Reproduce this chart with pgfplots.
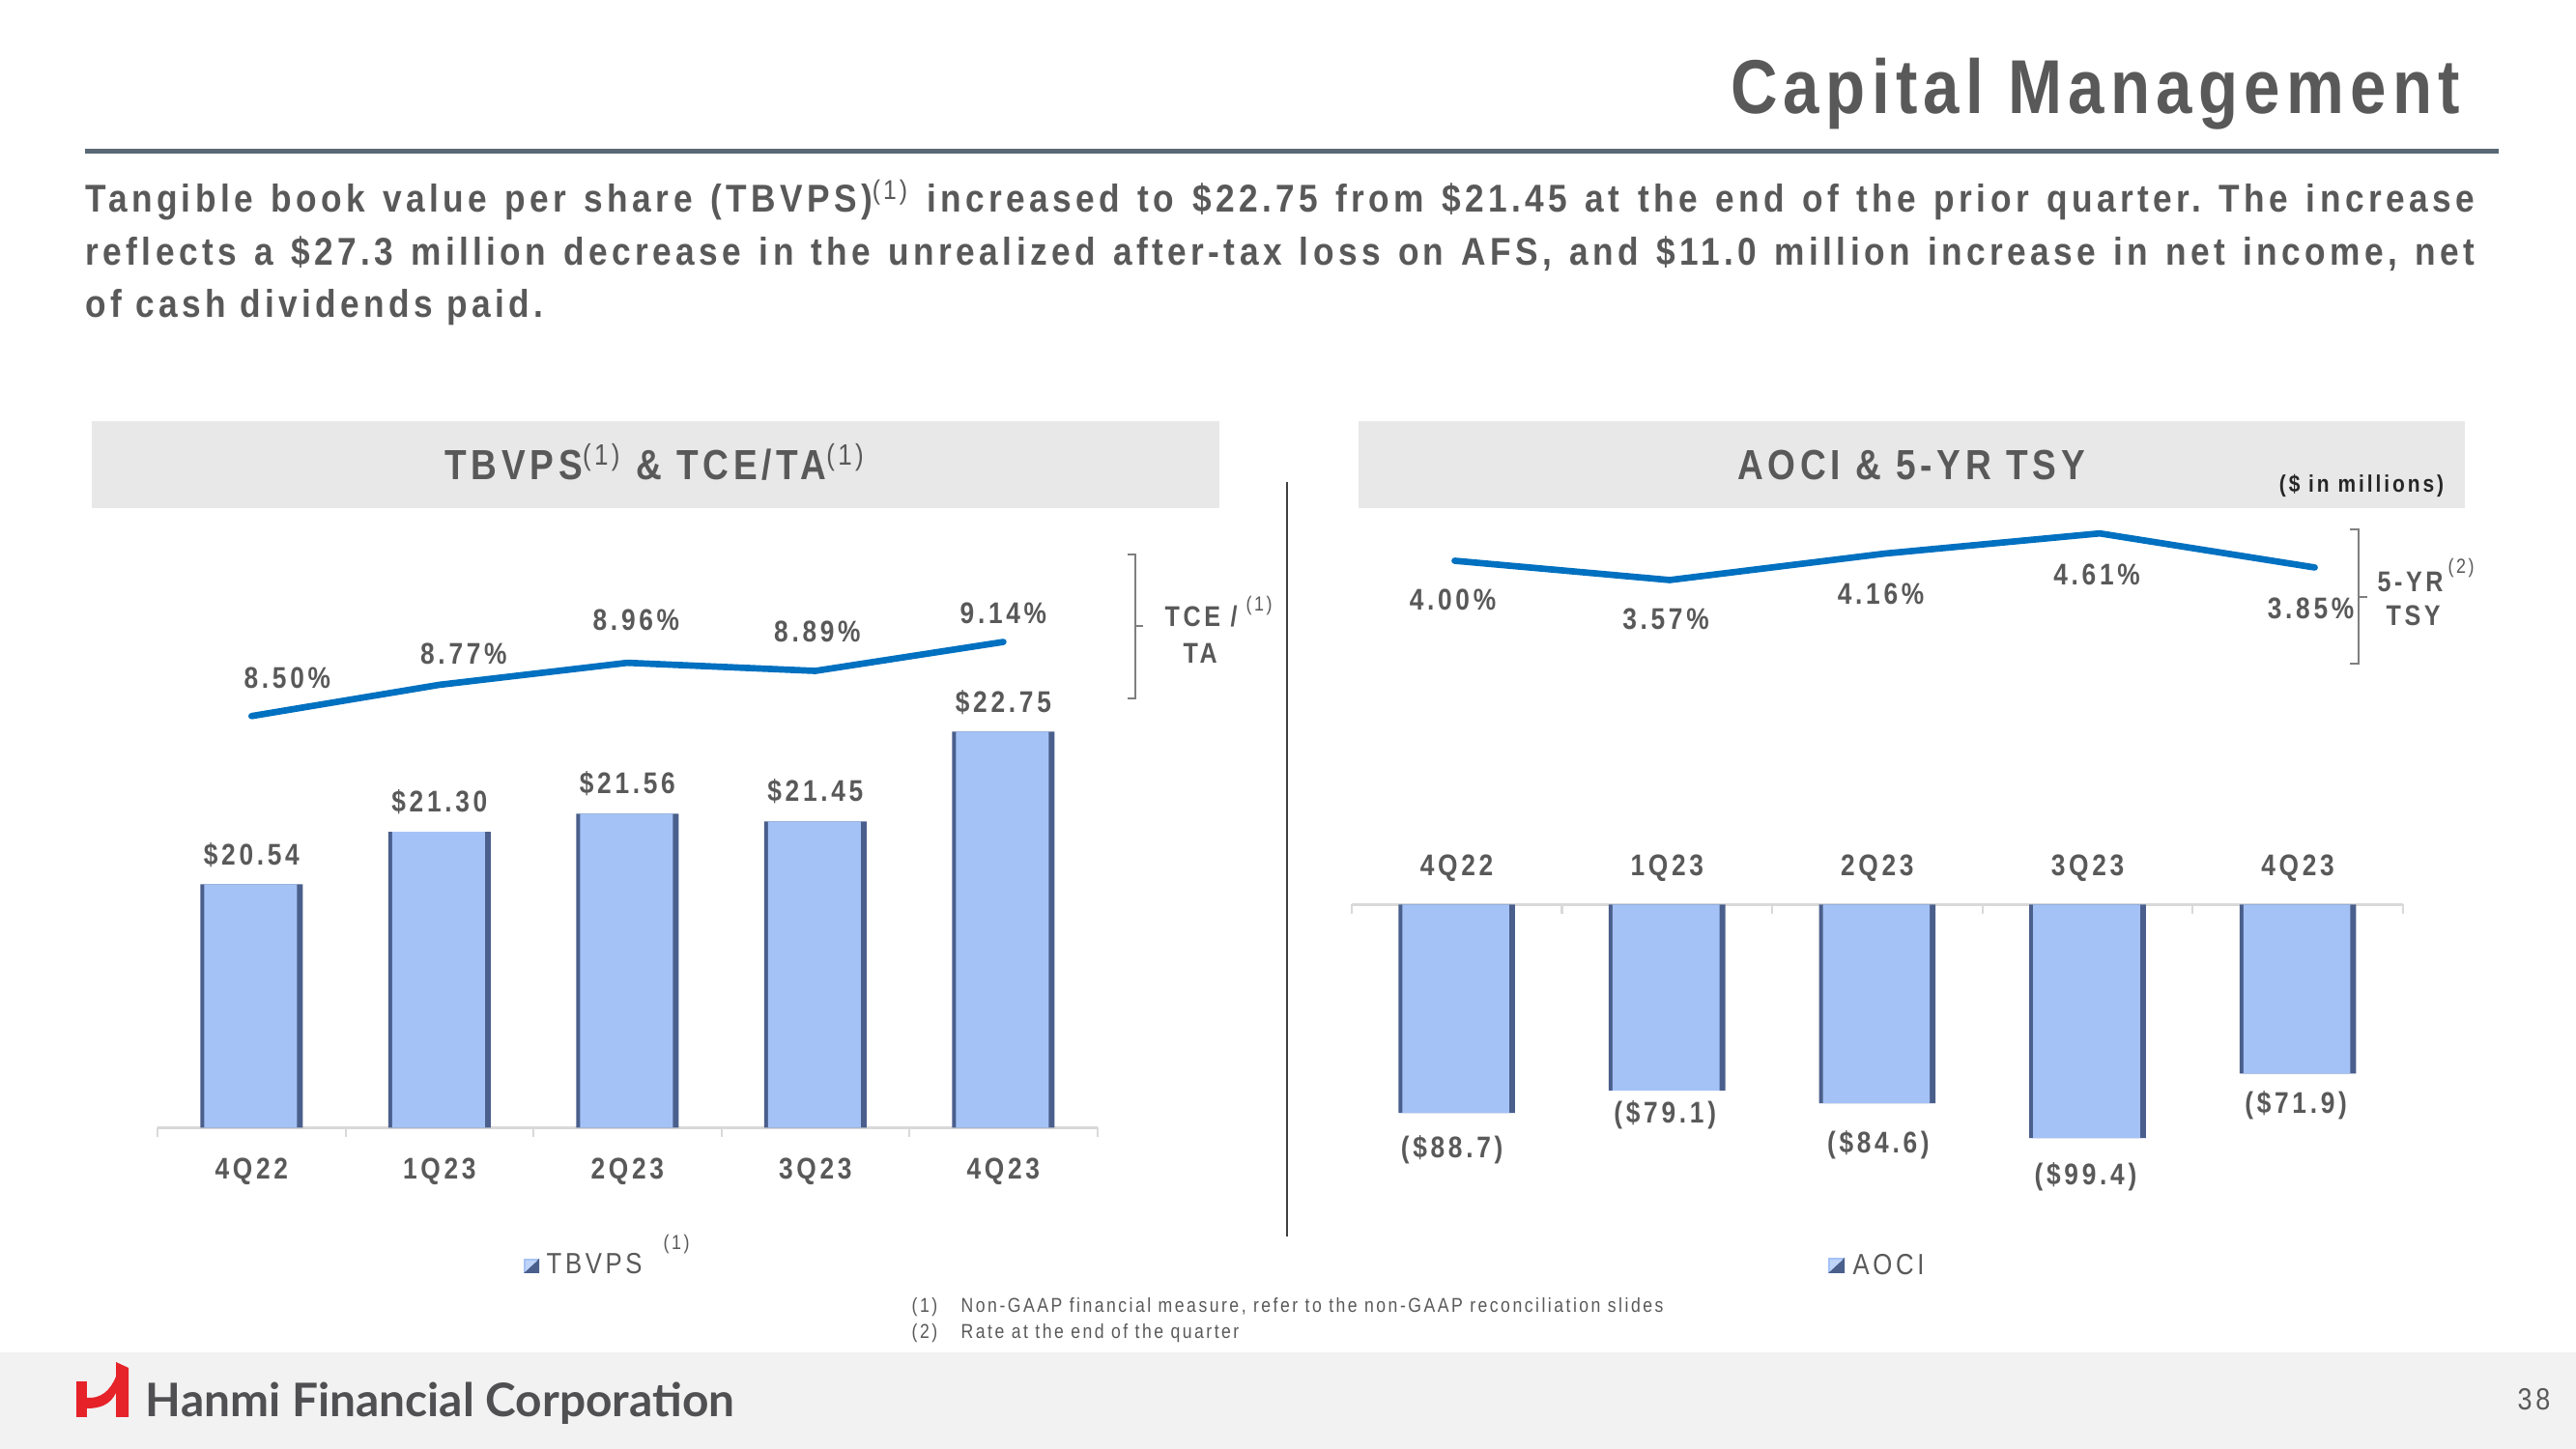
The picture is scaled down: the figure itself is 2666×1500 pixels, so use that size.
\documentclass[border=0pt]{standalone}
\usepackage{pgfplots}
\pgfplotsset{compat=1.18}
\usepackage{pgfplotstable}
\usepackage{fontspec}
\setmainfont{Liberation Sans}[FakeStretch=0.85, LetterSpace=12]
\newfontfamily\parafont{Liberation Sans}[FakeStretch=0.88, LetterSpace=11]
\newfontfamily\hdrfont{Liberation Sans}[FakeStretch=0.85, LetterSpace=11]
\newfontfamily\titlefont{Liberation Sans}[FakeStretch=0.85, LetterSpace=8]
\newfontfamily\logofont{Lato}
\definecolor{txt}{HTML}{595959}
\definecolor{rulecol}{HTML}{5A6873}
\definecolor{hdrgray}{HTML}{E8E8E8}
\definecolor{footgray}{HTML}{F2F2F3}
\definecolor{lineblue}{HTML}{0070C0}
\definecolor{barblue}{HTML}{A4C2F6}
\definecolor{barshadow}{HTML}{4A5F8C}
\definecolor{axgray}{HTML}{D9D9D9}
\definecolor{brk}{HTML}{7F7F7F}
\definecolor{divcol}{HTML}{404040}
\definecolor{hanmired}{HTML}{E52329}
\definecolor{logogray}{HTML}{505052}
\newcommand\lbl{\fontsize{8.8}{10}\selectfont\bfseries}

\pgfplotstableread{
x val dx dy lab
0 20.54 0 30.5 20.54
1 21.30 0 30.5 21.30
2 21.56 0 31 21.56
3 21.45 0 31 21.45
4 22.75 0 30 22.75
}\tbvps
\pgfplotstableread{
x val dx dy lab
0 8.50 37 39 8.50
1 8.77 25 32 8.77
2 8.96 9 44 8.96
3 8.89 2 41 8.89
4 9.14 0 30 9.14
}\tce
\pgfplotstableread{
x val dx dy lab
0 -88.7 -5 -38.5 88.7
1 -79.1 -2 -25.5 79.1
2 -84.6 1 -43 84.6
3 -99.4 -2 -39.5 99.4
4 -71.9 -2 -32.5 71.9
}\aoci
\pgfplotstableread{
x val dx dy lab
0 4.00 -2 -40 4.00
1 3.57 -4 -40.7 3.57
2 4.16 -4 -42 4.16
3 4.61 -3 -43 4.61
4 3.85 -4 -42 3.85
}\tsy

\pgfplotsset{
  lbls/.style={nodes near coords={#1}, point meta=explicit symbolic,
    visualization depends on={\thisrow{dx} \as \dx},
    visualization depends on={\thisrow{dy} \as \dy},
    every node near coord/.append style={font=\lbl, text=txt, anchor=center, inner sep=0pt,
      xshift=\dx*0.01cm, yshift=\dy*0.01cm}},
}

\begin{document}
\begin{tikzpicture}
\begin{scope}[x=0.01cm, y=0.01cm]
\fill[white] (0,0) rectangle (2666,1500);
% title
\node[anchor=base east, inner sep=0pt, font=\titlefont\fontsize{22.5}{27}\selectfont\bfseries, text=txt] at (2547,1382) {Capital Management};
\fill[rulecol] (88,1341) rectangle (2586,1346);
% paragraph
\node[anchor=base west, inner sep=0pt, text=txt] at (88,1280) {\parbox[t]{24.71cm}{\parafont\fontsize{11.4}{15.4}\selectfont\bfseries\parindent=0pt\frenchspacing
Tangible book value per share (TBVPS)\textsuperscript{\mdseries(1)} increased to \$22.75 from \$21.45 at the end of the prior quarter. The increase\linebreak
reflects a \$27.3 million decrease in the unrealized after-tax loss on AFS, and \$11.0 million increase in net income, net\linebreak
of cash dividends paid.}};
% headers
\fill[hdrgray] (95,974) rectangle (1262,1064);
\fill[hdrgray] (1406,974) rectangle (2551,1064);
\node[anchor=base, inner sep=0pt, font=\hdrfont\fontsize{12.4}{14}\selectfont\bfseries, text=txt] at (678,1003) {TBVPS\textsuperscript{\mdseries(1)} \& TCE/TA\textsuperscript{\mdseries(1)}};
\node[anchor=base, inner sep=0pt, font=\hdrfont\fontsize{12.4}{14}\selectfont\bfseries, text=txt] at (1978,1003) {AOCI \& 5-YR TSY};
\node[anchor=base, inner sep=0pt, font=\fontsize{7}{8}\selectfont\bfseries, text=black!85] at (2444,990) {(\$ in millions)};
% divider
\draw[divcol, line width=0.6pt] (1332,1001) -- (1332,220);
% TCE/TA bracket
\draw[brk, line width=0.5pt] (1167,926) -- (1175,926) -- (1175,777) -- (1167,777);
\draw[brk, line width=0.5pt] (1175,852) -- (1183,852);
\node[anchor=base west, inner sep=0pt, font=\fontsize{8.4}{10}\selectfont\bfseries, text=txt] at (1205,851) {TCE /};
\node[anchor=base west, inner sep=0pt, font=\fontsize{8.4}{10}\selectfont\bfseries, text=txt] at (1224,813) {TA};
\node[inner sep=0pt, font=\fontsize{6}{7}\selectfont, text=txt] at (1303,873) {(1)};
% TSY bracket
\draw[brk, line width=0.5pt] (2432,952) -- (2441,952) -- (2441,813) -- (2432,813);
\draw[brk, line width=0.5pt] (2441,882) -- (2450,882);
\node[anchor=base west, inner sep=0pt, font=\fontsize{8.4}{10}\selectfont\bfseries, text=txt] at (2460,887) {5-YR};
\node[inner sep=0pt, font=\fontsize{6}{7}\selectfont, text=txt] at (2547,912) {(2)};
\node[anchor=base west, inner sep=0pt, font=\fontsize{8.4}{10}\selectfont\bfseries, text=txt] at (2469,852) {TSY};
% legends
\fill[barblue] (542,182) rectangle (558,197);
\fill[barshadow] (542,182) -- (558,182) -- (558,197) -- cycle;
\fill[barblue!70!white] (544,184) -- (556,195) -- (544,195) -- cycle;
\node[anchor=base west, inner sep=0pt, font=\fontsize{8.6}{10}\selectfont, text=txt] at (565,181) {TBVPS};
\node[inner sep=0pt, font=\fontsize{6}{7}\selectfont, text=txt] at (700,212) {(1)};
\fill[barblue] (1892,182) rectangle (1909,198);
\fill[barshadow] (1892,182) -- (1909,182) -- (1909,198) -- cycle;
\fill[barblue!70!white] (1894,184) -- (1907,196) -- (1894,196) -- cycle;
\node[anchor=base west, inner sep=0pt, font=\fontsize{8.6}{10}\selectfont, text=txt] at (1917,180) {AOCI};
% footnotes
\node[anchor=base west, inner sep=0pt, font=\fontsize{5.9}{7}\selectfont, text=txt] at (943,141) {(1)};
\node[anchor=base west, inner sep=0pt, font=\fontsize{5.9}{7}\selectfont, text=txt] at (994,141) {Non-GAAP financial measure, refer to the non-GAAP reconciliation slides};
\node[anchor=base west, inner sep=0pt, font=\fontsize{5.9}{7}\selectfont, text=txt] at (943,114) {(2)};
\node[anchor=base west, inner sep=0pt, font=\fontsize{5.9}{7}\selectfont, text=txt] at (994,114) {Rate at the end of the quarter};
% footer
\fill[footgray] (0,0) rectangle (2666,100);
\fill[hanmired] (79,33) rectangle (90,70);
\fill[hanmired] (120,33) -- (133,33) -- (133,84) -- (120,90) -- cycle;
\fill[hanmired] (90,53) .. controls (104,52) and (114,60) .. (120,75) -- (120,58) .. controls (114,46) and (104,42) .. (90,42) -- cycle;
\node[anchor=base west, inner sep=0pt, font=\logofont\fontsize{13.6}{15}\selectfont\bfseries, text=logogray] at (150,33) {Hanmi Financial Corporation};
\node[anchor=base east, inner sep=0pt, font=\fontsize{9}{10}\selectfont, text=txt] at (2640,40) {38};
\end{scope}

% ---------- left bars ----------
\begin{axis}[at={(1.63cm,3.325cm)}, anchor=south west, scale only axis,
  width=9.72cm, height=6.075cm, xmin=-0.5, xmax=4.5, ymin=17.02, ymax=25.516,
  axis x line*=bottom, axis y line=none, clip=false,
  x axis line style={draw=axgray, line width=0.8pt, -},
  xtick={0,1,2,3,4}, xticklabels={4Q22,1Q23,2Q23,3Q23,4Q23},
  major x tick style={draw=none},
  minor xtick={-0.5,0.5,1.5,2.5,3.5,4.5}, minor tick length=0.1cm,
  minor x tick style={draw=axgray, line width=0.6pt}, tick align=outside,
  xticklabel style={font=\lbl, text=txt, anchor=base, yshift=-0.385cm, inner sep=0pt}]
\addplot[ybar, bar width=1.06cm, bar shift=0pt, fill=barshadow, draw=none]
  table[x=x, y=val]{\tbvps};
\addplot[ybar, bar width=0.96cm, bar shift=-0.01cm, fill=barblue, draw=none,
  lbls={\$\pgfplotspointmeta}] table[x=x, y=val, meta=lab]{\tbvps};
\end{axis}
\begin{axis}[at={(1.63cm,3.325cm)}, anchor=south west, scale only axis,
  width=9.72cm, height=6.075cm, xmin=-0.5, xmax=4.5, ymin=4.946, ymax=10.017,
  hide axis, clip=false]
\addplot[lineblue, line width=1.9pt, line cap=round, line join=round, mark=none,
  lbls={\pgfplotspointmeta\%}] table[x=x, y=val, meta=lab]{\tce};
\end{axis}

% ---------- right bars ----------
\begin{axis}[at={(13.98cm,2.40cm)}, anchor=south west, scale only axis,
  width=10.875cm, height=3.233cm, xmin=-0.5, xmax=4.5, ymin=-132.94, ymax=0,
  axis x line*=top, axis y line=none, clip=false,
  x axis line style={draw=axgray, line width=0.8pt, -},
  xtick={0,1,2,3,4}, xticklabels={4Q22,1Q23,2Q23,3Q23,4Q23},
  major x tick style={draw=none},
  minor xtick={-0.5,0.5,1.5,2.5,3.5,4.5}, minor tick length=0.1cm,
  minor x tick style={draw=axgray, line width=0.6pt}, tick align=inside,
  xticklabel style={font=\lbl, text=txt, anchor=base, yshift=0.30cm, inner sep=0pt}]
\addplot[ybar, bar width=1.205cm, bar shift=0pt, fill=barshadow, draw=none]
  table[x=x, y=val]{\aoci};
\addplot[ybar, bar width=1.105cm, bar shift=-0.01cm, fill=barblue, draw=none,
  lbls={(\$\pgfplotspointmeta)}] table[x=x, y=val, meta=lab]{\aoci};
\end{axis}
\begin{axis}[at={(13.934cm,5.633cm)}, anchor=south west, scale only axis,
  width=11.12cm, height=4.367cm, xmin=-0.5, xmax=4.5, ymin=-3.665, ymax=5.747,
  hide axis, clip=false]
\addplot[lineblue, line width=1.9pt, line cap=round, line join=round, mark=none,
  lbls={\pgfplotspointmeta\%}] table[x=x, y=val, meta=lab]{\tsy};
\end{axis}
\end{tikzpicture}
\end{document}
